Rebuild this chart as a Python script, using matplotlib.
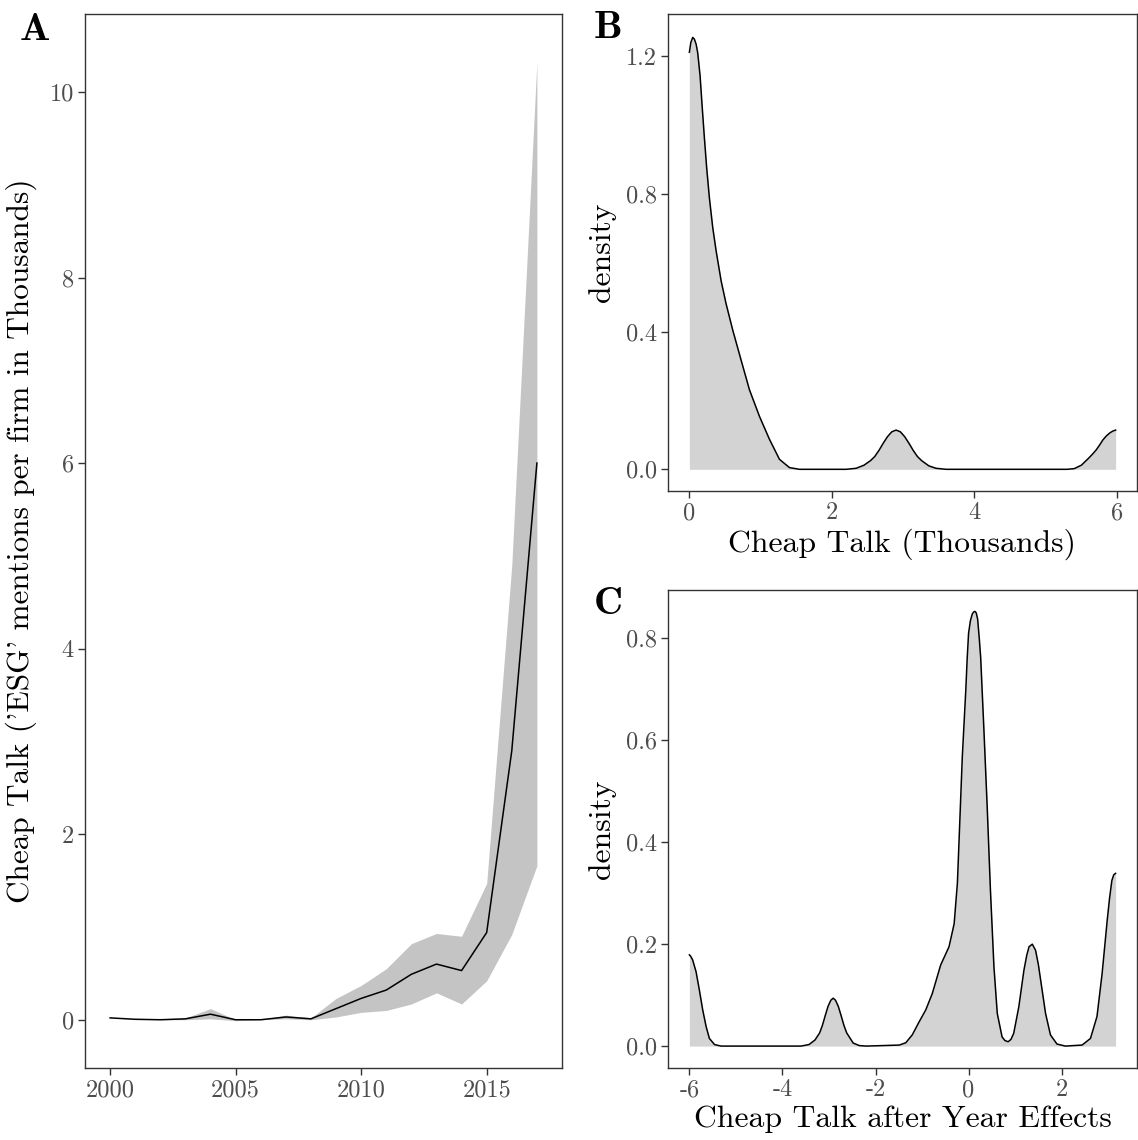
import matplotlib
matplotlib.use("Agg")
import matplotlib.pyplot as plt

plt.rcParams['font.family'] = ['cmr10', 'DejaVu Serif']
plt.rcParams['axes.unicode_minus'] = False

# panel A: mean cheap talk per year with band
years = [2000, 2001, 2002, 2003, 2004, 2005, 2006, 2007, 2008, 2009,
         2010, 2011, 2012, 2013, 2014, 2015, 2016, 2017]
talk_mean = [0.02, 0.005, 0.0, 0.01, 0.06, 0.0, 0.0, 0.03, 0.01, 0.12,
             0.23, 0.32, 0.49, 0.60, 0.53, 0.94, 2.9, 6.0]
talk_low = [0.02, 0.005, 0.0, 0.0, 0.01, -0.01, 0.0, 0.01, 0.0, 0.03,
            0.08, 0.10, 0.17, 0.29, 0.17, 0.42, 0.92, 1.66]
talk_high = [0.02, 0.005, 0.0, 0.02, 0.12, 0.0, 0.0, 0.05, 0.02, 0.23,
             0.37, 0.55, 0.82, 0.93, 0.90, 1.47, 4.9, 10.32]

# panel B: density of cheap talk (thousands)
dens_b_x = [0.0, 0.02, 0.047, 0.070, 0.095, 0.117, 0.150, 0.178, 0.211, 0.243,
            0.281, 0.328, 0.375, 0.445, 0.515, 0.609, 0.726, 0.843, 0.983, 1.124,
            1.264, 1.404, 1.545, 2.2, 2.34, 2.45, 2.54, 2.6, 2.66, 2.72,
            2.78, 2.84, 2.9, 2.96, 3.02, 3.08, 3.14, 3.2, 3.26, 3.36,
            3.46, 3.6, 5.3, 5.4, 5.5, 5.6, 5.66, 5.71, 5.76, 5.8,
            5.85, 5.9, 5.94, 5.98]
dens_b_y = [1.212, 1.24, 1.255, 1.25, 1.235, 1.21, 1.144, 1.058, 0.962, 0.875,
            0.788, 0.702, 0.635, 0.548, 0.481, 0.404, 0.317, 0.231, 0.154, 0.087,
            0.029, 0.005, 0.0, 0.0, 0.003, 0.012, 0.025, 0.037, 0.055, 0.076,
            0.095, 0.109, 0.114, 0.109, 0.095, 0.076, 0.055, 0.037, 0.025, 0.01,
            0.003, 0.0, 0.0, 0.002, 0.012, 0.032, 0.045, 0.057, 0.072, 0.085,
            0.097, 0.106, 0.111, 0.114]

# panel C: density after year effects
dens_c_x = [-6.0, -5.97, -5.93, -5.857, -5.786, -5.714, -5.64, -5.57, -5.46, -5.32,
            -3.6, -3.43, -3.3, -3.2, -3.14, -3.08, -3.02, -2.96, -2.91, -2.86,
            -2.80, -2.74, -2.68, -2.62, -2.48, -2.35, -2.2,
            -1.49, -1.35, -1.21, -1.06, -0.92, -0.78, -0.60, -0.42, -0.31, -0.24,
            -0.19, -0.135, -0.06, -0.03, 0.0, 0.04, 0.08, 0.11, 0.137, 0.165,
            0.195, 0.23, 0.26, 0.33, 0.40, 0.47, 0.545, 0.617, 0.72, 0.78,
            0.85, 0.91, 0.97, 1.08, 1.19, 1.25, 1.30, 1.37, 1.44, 1.50,
            1.55, 1.655, 1.76, 1.90, 2.08,
            2.44, 2.62, 2.76, 2.87, 2.98, 3.03, 3.08, 3.12, 3.16]
dens_c_y = [0.179, 0.176, 0.169, 0.146, 0.110, 0.071, 0.038, 0.015, 0.003, 0.0,
            0.0, 0.003, 0.012, 0.026, 0.041, 0.060, 0.078, 0.090, 0.094, 0.090,
            0.078, 0.060, 0.041, 0.026, 0.006, 0.001, 0.0,
            0.002, 0.0065, 0.022, 0.048, 0.071, 0.103, 0.159, 0.195, 0.24, 0.32,
            0.437, 0.567, 0.698, 0.76, 0.81, 0.835, 0.848, 0.852, 0.853, 0.85,
            0.838, 0.80, 0.763, 0.62, 0.47, 0.306, 0.156, 0.064, 0.018, 0.011,
            0.0085, 0.013, 0.025, 0.077, 0.149, 0.178, 0.195, 0.20, 0.188, 0.160,
            0.129, 0.064, 0.022, 0.004, 0.0,
            0.002, 0.015, 0.058, 0.142, 0.247, 0.29, 0.325, 0.336, 0.339]

W, H = 1138, 1140
fig = plt.figure(figsize=(W / 100, H / 100), dpi=100)


def rect(l, r, t, b):
    return [l / W, 1 - b / H, (r - l) / W, (b - t) / H]


def style(ax):
    for s in ax.spines.values():
        s.set_color('#333333')
        s.set_linewidth(1.0)
    ax.tick_params(direction='out', length=5, width=1.0, color='#333333',
                   labelsize=17.5, labelcolor='#4d4d4d', pad=3)


axA = fig.add_axes(rect(85, 562, 14, 1068))
axB = fig.add_axes(rect(668, 1137, 14, 491))
axC = fig.add_axes(rect(668, 1137, 590, 1068))

axA.fill_between(years, talk_low, talk_high, color='#c4c4c4', lw=0)
axA.plot(years, talk_mean, color='black', lw=1.1)
axA.set_xlim(1999.0, 2018.0)
axA.set_ylim(-0.52, 10.84)
axA.set_xticks([2000, 2005, 2010, 2015], ['2000', '2005', '2010', '2015'])
axA.set_yticks([0, 2, 4, 6, 8, 10], ['0', '2', '4', '6', '8', '10'])
axA.set_ylabel("Cheap Talk ('ESG' mentions per firm in Thousands)", fontsize=22.5, labelpad=9)
style(axA)

axB.fill_between(dens_b_x, dens_b_y, 0, color='#d3d3d3', lw=0)
axB.plot(dens_b_x, dens_b_y, color='black', lw=1.1)
axB.set_xlim(-0.3, 6.28)
axB.set_ylim(-0.063, 1.323)
axB.set_xticks([0, 2, 4, 6], ['0', '2', '4', '6'])
axB.set_yticks([0.0, 0.4, 0.8, 1.2], ['0.0', '0.4', '0.8', '1.2'])
axB.set_xlabel('Cheap Talk (Thousands)', fontsize=22.8, labelpad=3)
axB.set_ylabel('density', fontsize=22.8, labelpad=7)
style(axB)

axC.fill_between(dens_c_x, dens_c_y, 0, color='#d3d3d3', lw=0)
axC.plot(dens_c_x, dens_c_y, color='black', lw=1.1)
axC.set_xlim(-6.46, 3.62)
axC.set_ylim(-0.043, 0.895)
axC.set_xticks([-6, -4, -2, 0, 2], ['-6', '-4', '-2', '0', '2'])
axC.set_yticks([0.0, 0.2, 0.4, 0.6, 0.8], ['0.0', '0.2', '0.4', '0.6', '0.8'])
axC.set_xlabel('Cheap Talk after Year Effects', fontsize=22.8, labelpad=3)
axC.set_ylabel('density', fontsize=22.8, labelpad=7)
style(axC)

fig.text(20 / W, 1 - 40 / H, 'A', fontsize=29, family='cmb10')
fig.text(594 / W, 1 - 38 / H, 'B', fontsize=29, family='cmb10')
fig.text(594 / W, 1 - 614 / H, 'C', fontsize=29, family='cmb10')

fig.savefig('out.png', dpi=100)
